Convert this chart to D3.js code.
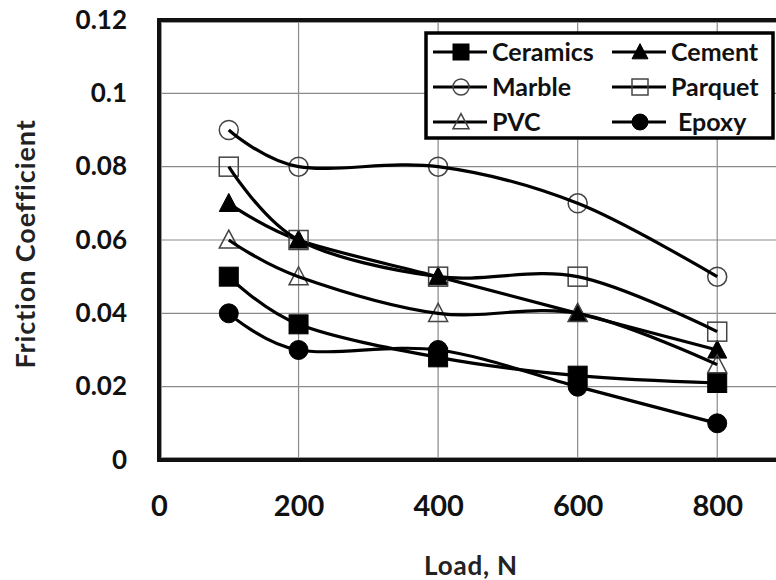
<!DOCTYPE html>
<html>
<head>
<meta charset="utf-8">
<script src="https://cdn.jsdelivr.net/npm/d3@7/dist/d3.min.js"></script>
<style>
  html, body { margin: 0; padding: 0; background: #fff; }
  svg { display: block; }
</style>
</head>
<body>
<svg id="chart" width="776" height="580"></svg>
<script>
// Loads (N) at which the friction coefficient was measured
const loads = [100, 200, 400, 600, 800];

// Friction coefficient per floor material
const ceramics = [0.05, 0.037, 0.028, 0.023, 0.021];
const cement   = [0.07, 0.06, 0.05, 0.04, 0.03];
const marble   = [0.09, 0.08, 0.08, 0.07, 0.05];
const parquet  = [0.08, 0.06, 0.05, 0.05, 0.035];
const pvc      = [0.06, 0.05, 0.04, 0.04, 0.026];
const epoxy    = [0.04, 0.03, 0.03, 0.02, 0.01];

const seriesNames = ["Ceramics", "Cement", "Marble", "Parquet", "PVC", "Epoxy"];
const seriesValues = [ceramics, cement, marble, parquet, pvc, epoxy];
const seriesMarkers = ["square", "triangle", "circle", "square", "triangle", "circle"];
const seriesFilled = [true, true, false, false, false, true];

const xTicks = [0, 200, 400, 600, 800];
const yTicks = [0, 0.02, 0.04, 0.06, 0.08, 0.1, 0.12];

const svg = d3.select("#chart");
const FONT = "Lato, 'Open Sans', sans-serif";

const plot = { left: 159, top: 20, right: 787, bottom: 460 };

const x = d3.scaleLinear().domain([0, 900]).range([plot.left, plot.right]);
const y = d3.scaleLinear().domain([0, 0.12]).range([plot.bottom, plot.top]);

// Gridlines
const grid = svg.append("g");
grid.selectAll("line.gx").data(xTicks.filter(d => d > 0)).join("line")
  .attr("x1", d => x(d)).attr("x2", d => x(d))
  .attr("y1", plot.top).attr("y2", plot.bottom)
  .attr("stroke", "#8a8a8a").attr("stroke-width", 1.2);
grid.selectAll("line.gy").data(yTicks.filter(d => d > 0 && d < 0.12)).join("line")
  .attr("x1", plot.left).attr("x2", plot.right)
  .attr("y1", d => y(d)).attr("y2", d => y(d))
  .attr("stroke", "#8a8a8a").attr("stroke-width", 1.2);

// Plot frame (double rule)
svg.append("rect")
  .attr("x", plot.left).attr("y", plot.top)
  .attr("width", plot.right - plot.left).attr("height", plot.bottom - plot.top)
  .attr("fill", "none").attr("stroke", "#111").attr("stroke-width", 4);
svg.append("rect")
  .attr("x", plot.left + 2.5).attr("y", plot.top + 2.5)
  .attr("width", plot.right - plot.left - 5).attr("height", plot.bottom - plot.top - 5)
  .attr("fill", "none").attr("stroke", "#999").attr("stroke-width", 1);

// Axes (labels only; the frame serves as axis lines)
const xAxis = d3.axisBottom(x).tickValues(xTicks).tickSize(0).tickPadding(0)
  .tickFormat(d3.format("d"));
const gx = svg.append("g").attr("transform", `translate(0, ${plot.bottom + 35})`).call(xAxis);
gx.select(".domain").remove();
gx.selectAll("text")
  .attr("font-family", FONT)
  .attr("font-weight", "bold").attr("font-size", 29).attr("fill", "#111")
  .attr("dy", "0.71em").attr("y", 0);

const yAxis = d3.axisLeft(y).tickValues(yTicks).tickSize(0).tickPadding(0)
  .tickFormat(d => d === 0 ? "0" : String(+d.toFixed(2)));
const gy = svg.append("g").attr("transform", `translate(127, 0)`).call(yAxis);
gy.select(".domain").remove();
gy.selectAll("text")
  .attr("font-family", FONT)
  .attr("font-weight", "bold").attr("font-size", 26).attr("fill", "#111");

// Axis titles
svg.append("text")
  .attr("x", 471).attr("y", 575)
  .attr("text-anchor", "middle")
  .attr("font-family", FONT)
  .attr("font-weight", "bold").attr("font-size", 26).attr("fill", "#222")
  .attr("letter-spacing", 0.8)
  .text("Load, N");
svg.append("text")
  .attr("transform", "translate(35, 244) rotate(-90)")
  .attr("text-anchor", "middle")
  .attr("font-family", FONT)
  .attr("font-weight", "bold").attr("font-size", 27).attr("fill", "#222")
  .attr("letter-spacing", 0.9)
  .text("Friction Coefficient");

// Marker drawing helper
function drawMarker(g, type, filled, cx, cy, size) {
  const s = size;
  let el;
  if (type === "square") {
    el = g.append("rect").attr("x", cx - s / 2).attr("y", cy - s / 2)
      .attr("width", s).attr("height", s);
  } else if (type === "circle") {
    el = g.append("circle").attr("cx", cx).attr("cy", cy).attr("r", s / 2);
  } else {
    const h = s * 0.95;
    el = g.append("path").attr("d",
      `M${cx},${cy - h * 0.55} L${cx + s / 2},${cy + h * 0.45} L${cx - s / 2},${cy + h * 0.45} Z`);
  }
  if (filled) {
    el.attr("fill", "#000").attr("stroke", "#000").attr("stroke-width", 1);
  } else {
    el.attr("fill", "none").attr("stroke", "#444").attr("stroke-width", 1.5);
  }
}

const line = d3.line()
  .x(d => x(d[0])).y(d => y(d[1]))
  .curve(d3.curveCatmullRom.alpha(0));

const seriesG = svg.append("g");
seriesValues.forEach((vals, i) => {
  const pts = loads.map((l, j) => [l, vals[j]]);
  const g = seriesG.append("g");
  pts.forEach(p => drawMarker(g, seriesMarkers[i], seriesFilled[i], x(p[0]), y(p[1]), 19));
  g.append("path").datum(pts)
    .attr("d", line)
    .attr("fill", "none").attr("stroke", "#000").attr("stroke-width", 3.2);
});

// Legend
const leg = svg.append("g");
leg.append("rect")
  .attr("x", 426).attr("y", 33).attr("width", 347).attr("height", 105)
  .attr("fill", "#fff").attr("stroke", "#000").attr("stroke-width", 3.5);
const legCols = [433, 612];
const legRows = [52, 87, 122];
seriesNames.forEach((name, i) => {
  const col = i % 2, row = Math.floor(i / 2);
  const lx = legCols[col], ly = legRows[row];
  const item = leg.append("g");
  item.append("line").attr("x1", lx).attr("x2", lx + 54)
    .attr("y1", ly).attr("y2", ly).attr("stroke", "#000").attr("stroke-width", 3.2);
  drawMarker(item, seriesMarkers[i], seriesFilled[i], lx + 28, ly, 16);
  item.append("text")
    .attr("x", lx + 59 + (name === "Epoxy" ? 7 : 0)).attr("y", ly)
    .attr("dy", "0.36em")
    .attr("font-family", FONT)
    .attr("font-weight", "bold").attr("font-size", 25).attr("fill", "#111")
    .text(name);
});
</script>
</body>
</html>
